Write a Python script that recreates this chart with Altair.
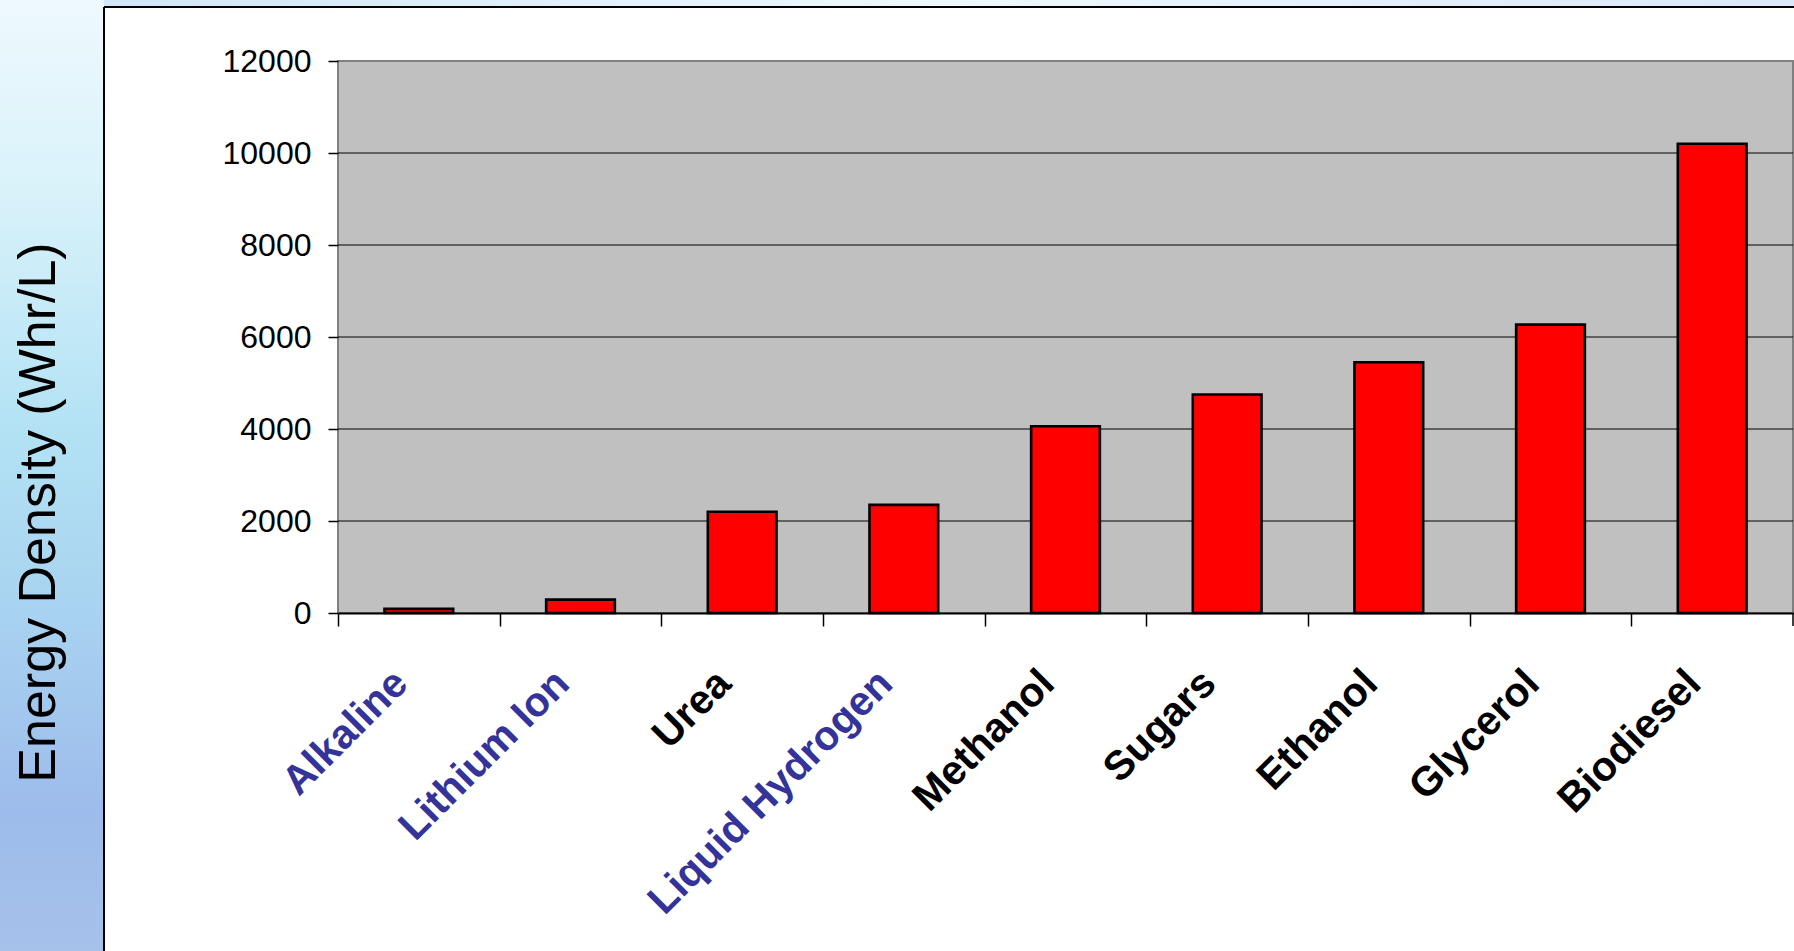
import altair as alt
import pandas as pd

# Volumetric energy density of storage media / fuels (Whr/L)
categories = ["Alkaline", "Lithium Ion", "Urea", "Liquid Hydrogen", "Methanol",
              "Sugars", "Ethanol", "Glycerol", "Biodiesel"]
energy_density = [90, 290, 2200, 2350, 4060, 4750, 5450, 6270, 10200]
# categories whose axis labels are drawn in blue
highlighted = ["Alkaline", "Lithium Ion", "Liquid Hydrogen"]
y_ticks = [0, 2000, 4000, 6000, 8000, 10000, 12000]

W, H = 1455, 552
PAD = {"left": 338, "top": 61, "right": 1, "bottom": 338}
FONT = "Liberation Sans"
STEP = W / len(categories)
TICK = 13

df = pd.DataFrame({"fuel": categories, "density": energy_density})
grid_df = pd.DataFrame({"density": y_ticks[1:-1]})
one = pd.DataFrame({"k": [0]})

label_test = "indexof([" + ",".join(f"'{c}'" for c in highlighted) + "], datum.value) >= 0"

# slide backdrop: watery blue strip on the left and a thin band on top
water = alt.LinearGradient(
    gradient="linear", x1=0, x2=0, y1=0, y2=1,
    stops=[
        alt.GradientStop(offset=0.0, color="#eef9fd"),
        alt.GradientStop(offset=0.2, color="#d9f2fa"),
        alt.GradientStop(offset=0.45, color="#b3e2f4"),
        alt.GradientStop(offset=0.65, color="#a8d2f0"),
        alt.GradientStop(offset=0.85, color="#9dbceb"),
        alt.GradientStop(offset=1.0, color="#a6c1ea"),
    ],
)
sky = alt.LinearGradient(
    gradient="linear", x1=0, x2=1, y1=0, y2=0,
    stops=[
        alt.GradientStop(offset=0.0, color="#cfe7f7"),
        alt.GradientStop(offset=0.5, color="#eef9fd"),
        alt.GradientStop(offset=1.0, color="#d9e8fa"),
    ],
)

left_strip = alt.Chart(one).mark_rect(color=water).encode(
    x=alt.value(-PAD["left"]), x2=alt.value(-234),
    y=alt.value(-PAD["top"]), y2=alt.value(H + PAD["bottom"]),
)
top_strip = alt.Chart(one).mark_rect(color=sky).encode(
    x=alt.value(-234), x2=alt.value(W + PAD["right"]),
    y=alt.value(-PAD["top"]), y2=alt.value(-54),
)
panel_left = alt.Chart(one).mark_rule(color="#000000", strokeWidth=2).encode(
    x=alt.value(-234), y=alt.value(-54), y2=alt.value(H + PAD["bottom"]),
)
panel_top = alt.Chart(one).mark_rule(color="#000000", strokeWidth=2).encode(
    x=alt.value(-234), x2=alt.value(W + PAD["right"]), y=alt.value(-54),
)
# closing tick at the right end of the category axis
end_tick = alt.Chart(one).mark_rule(color="#000000", strokeWidth=1.5).encode(
    x=alt.value(W), y=alt.value(H), y2=alt.value(H + TICK),
)

# horizontal gridlines behind the bars
grid = alt.Chart(grid_df).mark_rule(color="#000000", strokeWidth=1.2).encode(
    y=alt.Y("density:Q"),
)

bars = alt.Chart(df).mark_bar(color="#FF0000", stroke="#000000", strokeWidth=2.6).encode(
    x=alt.X(
        "fuel:N", sort=categories,
        scale=alt.Scale(paddingInner=0.575, paddingOuter=0.2875),
        axis=alt.Axis(
            title=None, labelAngle=-45, labelAlign="right", labelBaseline="middle",
            labelFont=FONT, labelFontSize=41, labelFontWeight="bold",
            labelColor={"condition": {"test": label_test, "value": "#333399"}, "value": "#000000"},
            labelPadding=51, labelOffset=round(STEP / 2 - 18, 2),
            labelLimit=0, labelOverlap=False,
            tickOffset=round(-STEP / 2, 2), tickSize=TICK, tickColor="#000000", tickWidth=1.5,
            domainColor="#000000", domainWidth=2, grid=False, zindex=1,
        ),
    ),
    y=alt.Y(
        "density:Q",
        scale=alt.Scale(domain=[0, 12000], nice=False),
        axis=alt.Axis(
            values=y_ticks, format="d",
            title="Energy Density (Whr/L)", titleFont=FONT, titleFontSize=52,
            titleFontWeight="normal", titleColor="#000000",
            titleX=-300, titleY=451, titleAngle=270, titleAlign="center",
            titleBaseline="middle",
            labelFont=FONT, labelFontSize=32, labelColor="#000000", labelPadding=17,
            tickSize=10, tickColor="#000000", tickWidth=1.5,
            grid=False, domain=False, zindex=1,
        ),
    ),
)

chart = alt.layer(left_strip, top_strip, panel_left, panel_top, grid, bars, end_tick).properties(
    width=W, height=H, padding=PAD,
    autosize=alt.AutoSizeParams(type="none"),
    background="#ffffff",
).configure_view(fill="#C0C0C0", stroke="#808080", strokeWidth=2)

chart.save("out.html", embed_options={"renderer": "svg", "actions": False})
